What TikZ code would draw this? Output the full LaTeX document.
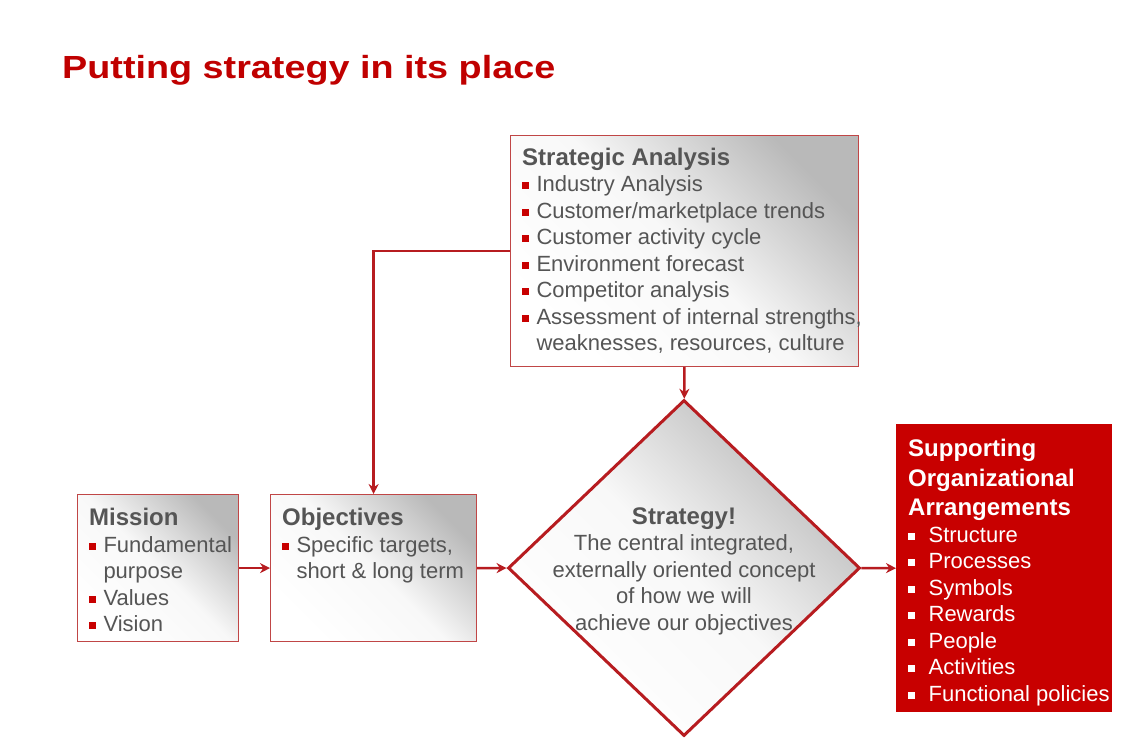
\documentclass[tikz,border=0pt]{standalone}
\usepackage{fontspec}
\setmainfont{Liberation Sans}
\newfontfamily\titlefont{Liberation Sans}[FakeStretch=1.18]
\usetikzlibrary{positioning,shapes.geometric,arrows.meta}

\definecolor{titlered}{RGB}{192,0,0}
\definecolor{linered}{RGB}{183,28,32}
\definecolor{panelred}{RGB}{192,70,70}
\definecolor{boxred}{RGB}{200,0,0}
\definecolor{bulred}{RGB}{200,0,0}
\definecolor{txtgray}{RGB}{85,85,85}
\definecolor{shadegray}{RGB}{185,185,185}
\definecolor{shademid}{RGB}{248,248,248}

\newcommand{\bodyfont}{\fontsize{22}{26.5}\selectfont}
\newcommand{\headfont}{\fontsize{24}{26.5}\selectfont\bfseries}
\newcommand{\bul}[1][bulred]{\textcolor{#1}{\rule[0.11em]{0.32em}{0.32em}}\hspace{0.33em}}
\newcommand{\indt}{\hspace*{0.65em}}

\begin{document}
\begin{tikzpicture}[x=1pt, y=-1pt,
    panel/.style={rectangle, draw=panelred, line width=1.2pt, inner sep=0pt, anchor=north west,
      top color=shadegray, bottom color=white, middle color=shademid, shading angle=-45},
    txt/.style={align=left, inner sep=0pt, anchor=north west, text=txtgray, font=\bodyfont},
    link/.style={draw=linered, line width=2.5pt, -{Stealth[length=10pt, width=10pt]}}]

    \path[use as bounding box, fill=white] (0,0) rectangle (1140,748);

    \node[anchor=base west, inner sep=0pt, text=titlered, font=\titlefont\fontsize{32}{32}\selectfont\bfseries] (title) at (62,78) {Putting strategy in its place};

    %% strategic analysis
    \node[panel, minimum width=348, minimum height=231] (sa) at (510,135) {};
    \node[txt, below right=12.5pt and 12pt of sa.north west] (satxt) {{\headfont Strategic Analysis}\\
        \bul Industry Analysis\\
        \bul Customer/marketplace trends\\
        \bul Customer activity cycle\\
        \bul Environment forecast\\
        \bul Competitor analysis\\
        \bul Assessment of internal strengths,\\
        \indt weaknesses, resources, culture};

    %% mission and objectives
    \node[panel, minimum width=161, minimum height=147] (mis) at (77,494) {};
    \node[txt, below right=14pt and 12pt of mis.north west] (mistxt) {{\headfont Mission}\\
        \bul Fundamental\\
        \indt purpose\\
        \bul Values\\
        \bul Vision};

    \node[panel, minimum width=206, minimum height=147] (obj) at (270,494) {};
    \node[txt, below right=14pt and 12pt of obj.north west] (objtxt) {{\headfont Objectives}\\
        \bul Specific targets,\\
        \indt short \& long term};

    %% strategy
    \node[diamond, draw=linered, line width=3pt, minimum width=352, minimum height=336, inner sep=0pt,
        top color=shadegray, bottom color=white, middle color=shademid, shading angle=-45] (strat) at (684,568) {};
    \node[align=center, inner sep=0pt, anchor=north, text=txtgray, font=\bodyfont, below=109pt of strat.north] (strattxt) {{\headfont Strategy!}\\
        The central integrated,\\
        externally oriented concept\\
        of how we will\\
        achieve our objectives};

    %% supporting arrangements
    \node[rectangle, fill=boxred, minimum width=216, minimum height=288, inner sep=0pt, anchor=north west] (soa) at (896,424) {};
    \node[txt, text=white, below right=15pt and 12pt of soa.north west] (soatxt) {{\headfont Supporting}\\[3pt]
        {\headfont Organizational}\\[3pt]
        {\headfont Arrangements}\\
        \bul[white] Structure\\
        \bul[white] Processes\\
        \bul[white] Symbols\\
        \bul[white] Rewards\\
        \bul[white] People\\
        \bul[white] Activities\\
        \bul[white] Functional policies};

    \draw[link] (mis) -- (obj);
    \draw[link] (obj) -- (strat);
    \draw[link] (strat) -- (soa);
    \draw[link] (sa) -- (strat);
    \draw[link] (sa.west) -| (obj.north);

\end{tikzpicture}
\end{document}
